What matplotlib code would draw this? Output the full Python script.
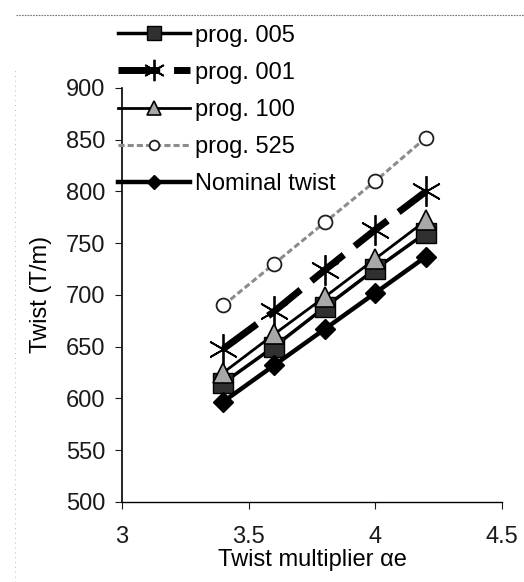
import matplotlib
matplotlib.use('Agg')
import matplotlib.pyplot as plt
from matplotlib.lines import Line2D

plt.rcParams['font.family'] = ['Liberation Sans', 'DejaVu Sans']

ae = [3.4, 3.6, 3.8, 4.0, 4.2]
prog_005 = [615, 650, 688, 725, 760]
prog_001 = [648, 684, 724, 763, 800]
prog_100 = [625, 662, 698, 735, 772]
prog_525 = [690, 730, 770, 810, 852]
nominal = [597, 632, 667, 702, 737]

fig = plt.figure(figsize=(5.24, 5.82), dpi=100)
ax = fig.add_axes([0.233, 0.1375, 0.725, 0.7115])

ax.plot(ae, prog_005, color='black', lw=2.5, marker='s', ms=14,
        mfc='#303030', mec='black', label='prog. 005', zorder=4)
ax.plot(ae, prog_001, color='black', lw=5, dashes=(6, 2), marker=(6, 2, 0),
        ms=22, mec='black', mew=1.3, label='prog. 001', zorder=3)
ax.plot(ae, prog_100, color='black', lw=2, marker='^', ms=14,
        mfc='#a8a8a8', mec='black', mew=1.2, label='prog. 100', zorder=5)
ax.plot(ae, prog_525, color='#8c8c8c', lw=2.2, dashes=(2, 1), marker='o', ms=10,
        mfc='white', mec='#202020', mew=1.3, label='prog. 525', zorder=3)
ax.plot(ae, nominal, color='black', lw=3.2, marker='D', ms=10,
        mfc='black', mec='black', label='Nominal twist', zorder=4)

ax.set_xlim(3, 4.5)
ax.set_ylim(500, 900)
ax.set_xticks([3, 3.5, 4, 4.5])
ax.set_xticklabels(['3', '3.5', '4', '4.5'])
ax.set_yticks(range(500, 901, 50))
ax.spines['top'].set_visible(False)
ax.spines['right'].set_visible(False)
ax.spines['left'].set_linewidth(1.2)
ax.spines['bottom'].set_linewidth(1.0)
ax.tick_params(direction='out', length=5, labelsize=17, colors='#1a1a1a')
ax.tick_params(axis='y', pad=7)
ax.tick_params(axis='x', pad=12)
ax.set_ylabel('Twist (T/m)', fontsize=17, labelpad=10)
ax.set_xlabel('Twist multiplier \u03b1e', fontsize=17, labelpad=1)

fig.legend(loc='upper left', bbox_to_anchor=(0.203, 0.978), frameon=False,
           fontsize=17, handlelength=3.05, handletextpad=0.2,
           labelspacing=0.64, borderpad=0, markerscale=0.7)

# faint dotted scan marks along the top and left edge
fig.add_artist(Line2D([0.03, 1.0], [0.974, 0.974], color='#777777', lw=0.8,
                      ls=(0, (1.5, 1)), transform=fig.transFigure))
fig.add_artist(Line2D([0.028, 0.028], [0.0, 0.88], color='#bbbbbb', lw=0.7,
                      ls=(0, (1, 4)), transform=fig.transFigure))

fig.savefig('out.png', dpi=100)
